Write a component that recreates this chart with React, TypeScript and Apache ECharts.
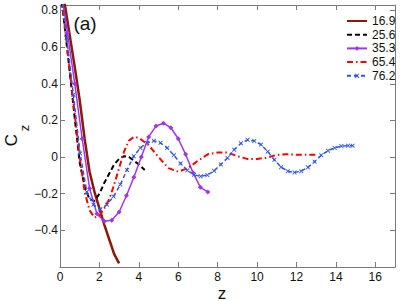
import React, { useEffect, useRef } from "react";
import * as echarts from "echarts";

const xTicks = [0, 2, 4, 6, 8, 10, 12, 14, 16];
const yTicks = [-0.4, -0.2, 0, 0.2, 0.4, 0.6, 0.8];
const seriesNames = ["16.9", "25.6", "35.3", "65.4", "76.2"];

const s169: [number, number][] = [
  [0, 1.0], [0.25, 0.83], [0.5, 0.66], [0.75, 0.49], [1.0, 0.31], [1.25, 0.1],
  [1.5, -0.08], [1.75, -0.19], [2.0, -0.28], [2.25, -0.37], [2.5, -0.45],
  [2.75, -0.53], [3.0, -0.58],
];
const s256: [number, number][] = [
  [0, 0.93], [0.25, 0.7], [0.5, 0.46], [0.75, 0.21], [1.0, -0.03], [1.25, -0.16],
  [1.5, -0.23], [1.75, -0.24], [2.0, -0.2], [2.25, -0.14], [2.5, -0.09],
  [2.75, -0.04], [3.0, -0.01], [3.25, 0.005], [3.5, 0.0], [3.75, -0.02],
  [4.0, -0.04], [4.3, -0.07],
];
const s353: [number, number][] = [
  [0, 0.95], [0.375, 0.68], [0.75, 0.4], [1.125, 0.1], [1.5, -0.17], [1.875, -0.31],
  [2.25, -0.35], [2.625, -0.345], [3.0, -0.3], [3.375, -0.21], [3.75, -0.11],
  [4.125, 0.0], [4.5, 0.11], [4.875, 0.17], [5.25, 0.185], [5.625, 0.16],
  [6.0, 0.1], [6.375, 0.015], [6.75, -0.085], [7.125, -0.165], [7.5, -0.19],
];
const s654: [number, number][] = [
  [0, 0.95], [0.25, 0.71], [0.5, 0.47], [0.75, 0.23], [1.0, 0.0], [1.25, -0.19],
  [1.5, -0.29], [1.75, -0.33], [2.0, -0.32], [2.25, -0.28], [2.5, -0.23],
  [2.75, -0.15], [3.0, -0.06], [3.25, 0.03], [3.5, 0.09], [3.75, 0.11],
  [4.0, 0.105], [4.5, 0.065], [5.0, 0.0], [5.5, -0.06], [6.0, -0.08], [6.5, -0.06],
  [7.0, -0.02], [7.5, 0.015], [8.0, 0.025], [8.5, 0.025], [9.0, 0.005],
  [9.5, -0.01], [10.0, -0.01], [10.5, -0.003], [11.0, 0.012], [11.5, 0.016],
  [12.0, 0.013], [12.5, 0.012], [13.0, 0.012],
];
const s762: [number, number][] = [
  [0, 0.95], [0.34, 0.65], [0.68, 0.34], [1.02, 0.02], [1.36, -0.19], [1.7, -0.26],
  [2.04, -0.285], [2.38, -0.26], [2.72, -0.215], [3.06, -0.15], [3.4, -0.07],
  [3.74, 0.005], [4.08, 0.05], [4.42, 0.078], [4.76, 0.089], [5.1, 0.078],
  [5.44, 0.05], [5.78, 0.01], [6.12, -0.035], [6.46, -0.072], [6.8, -0.097],
  [7.14, -0.105], [7.48, -0.098], [7.82, -0.075], [8.16, -0.04], [8.5, -0.005],
  [8.84, 0.04], [9.18, 0.075], [9.52, 0.094], [9.86, 0.088], [10.2, 0.068],
  [10.54, 0.03], [10.88, -0.015], [11.22, -0.055], [11.56, -0.077], [11.9, -0.084],
  [12.24, -0.077], [12.58, -0.056], [12.92, -0.025], [13.26, 0.01], [13.6, 0.035],
  [13.94, 0.05], [14.28, 0.06], [14.62, 0.062], [14.85, 0.062],
];

const FONT = "Liberation Sans, Arial, Helvetica, sans-serif";
const AXIS_COLOR = "#7a7a7a";
const X_MARK = "path://M0,1.4L1.4,0L5,3.6L8.6,0L10,1.4L6.4,5L10,8.6L8.6,10L5,6.4L1.4,10L0,8.6L3.6,5Z";

function fmtY(v: number): string {
  const hit = yTicks.find((t) => Math.abs(t - v) < 1e-6);
  if (hit === undefined) return "";
  if (hit === 0) return "0";
  const s = Math.abs(hit).toFixed(1);
  return hit < 0 ? "\u2212" + s : s;
}
function fmtX(v: number): string {
  return xTicks.some((t) => Math.abs(t - v) < 1e-6) ? String(v) : "";
}

export default function App() {
  const ref = useRef<HTMLDivElement>(null);
  useEffect(() => {
    if (!ref.current) return;
    const chart = echarts.init(ref.current, undefined, { renderer: "svg" });
    const axisCommon = {
      type: "value" as const,
      axisLine: { show: true, onZero: false, lineStyle: { color: AXIS_COLOR, width: 1 } },
      axisTick: { show: true, inside: true, length: 5, lineStyle: { color: AXIS_COLOR } },
      splitLine: { show: false },
    };
    const option: any = {
      animation: false,
      backgroundColor: "#ffffff",
      grid: { left: 60, right: 6, top: 5, bottom: 34, containLabel: false, outerBoundsMode: "none" },
      xAxis: [
        {
          ...axisCommon,
          position: "bottom",
          min: 0,
          max: 17,
          interval: 2,
          axisLabel: { formatter: fmtX, color: "#111", fontSize: 12, fontFamily: FONT, margin: 4 },
        },
        {
          ...axisCommon,
          position: "top",
          min: 0,
          max: 17,
          interval: 2,
          axisLabel: { show: false },
        },
      ],
      yAxis: [
        {
          ...axisCommon,
          position: "left",
          min: -0.6,
          max: 0.83,
          interval: 0.2,
          axisLabel: { formatter: fmtY, color: "#111", fontSize: 12, fontFamily: FONT, margin: 2 },
        },
        {
          ...axisCommon,
          position: "right",
          min: -0.6,
          max: 0.83,
          interval: 0.2,
          axisLabel: { show: false },
        },
      ],
      legend: {
        orient: "vertical",
        left: 341,
        top: 10,
        itemWidth: 20,
        itemHeight: 6,
        itemGap: 1.7,
        data: [
          { name: seriesNames[0], itemStyle: { opacity: 0 } },
          { name: seriesNames[1], itemStyle: { opacity: 0 } },
          { name: seriesNames[2] },
          { name: seriesNames[3], itemStyle: { opacity: 0 } },
          { name: seriesNames[4] },
        ],
        textStyle: { fontSize: 12, fontFamily: FONT, color: "#111", lineHeight: 12 },
      },
      series: [
        {
          name: seriesNames[0],
          type: "line",
          data: s169,
          symbol: "none",
          lineStyle: { color: "#8b1a08", width: 2.5 },
          itemStyle: { color: "#8b1a08" },
        },
        {
          name: seriesNames[1],
          type: "line",
          data: s256,
          symbol: "none",
          lineStyle: { color: "#000000", width: 2, type: [5, 3] },
          itemStyle: { color: "#000000" },
        },
        {
          name: seriesNames[2],
          type: "line",
          data: s353,
          symbol: "diamond",
          symbolSize: 5,
          showSymbol: true,
          lineStyle: { color: "#a035f0", width: 1.5 },
          itemStyle: { color: "#a035f0" },
        },
        {
          name: seriesNames[3],
          type: "line",
          data: s654,
          symbol: "none",
          lineStyle: { color: "#ff0000", width: 2, type: [6, 3, 1.5, 3] },
          itemStyle: { color: "#ff0000" },
        },
        {
          name: seriesNames[4],
          type: "line",
          data: s762,
          symbol: X_MARK,
          symbolSize: 4.5,
          showSymbol: true,
          lineStyle: { color: "#2f55ee", width: 1.5, type: [4, 3] },
          itemStyle: { color: "#2f55ee" },
        },
      ],
      graphic: [
        {
          type: "text",
          x: 85,
          y: 23,
          style: { text: "(a)", fontSize: 19, fontFamily: FONT, fill: "#111", align: "center", verticalAlign: "middle" },
        },
        {
          type: "text",
          x: 222,
          y: 293,
          style: { text: "z", fontSize: 17, fontFamily: FONT, fill: "#111", align: "center", verticalAlign: "middle" },
        },
        {
          type: "text",
          x: 11,
          y: 140,
          rotation: Math.PI / 2,
          style: { text: "C", fontSize: 17, lineHeight: 17, fontFamily: FONT, fill: "#111", align: "center", verticalAlign: "middle" },
        },
        {
          type: "text",
          x: 24,
          y: 128,
          rotation: Math.PI / 2,
          style: { text: "z", fontSize: 13, lineHeight: 13, fontFamily: FONT, fill: "#111", align: "center", verticalAlign: "middle" },
        },
      ],
    };
    chart.setOption(option);
    return () => chart.dispose();
  }, []);
  return (
    <div
      ref={ref}
      style={{ position: "fixed", left: 0, top: 0, width: 401, height: 301, background: "#fff" }}
    />
  );
}
